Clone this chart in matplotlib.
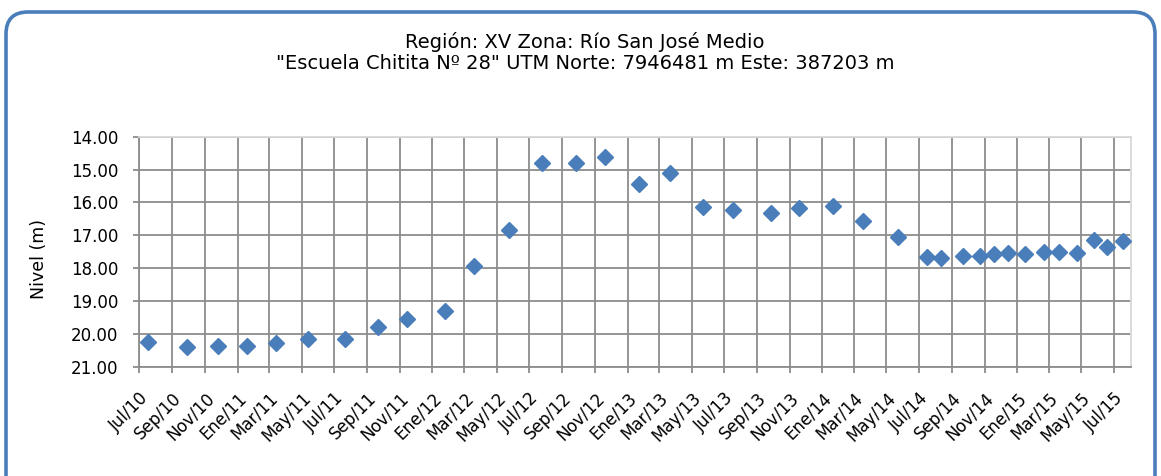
import numpy as np
import pandas as pd
import matplotlib
matplotlib.use("Agg")
import matplotlib.pyplot as plt
import matplotlib.dates as mdates
from matplotlib.patches import FancyBboxPatch
from matplotlib.transforms import IdentityTransform

# Water level readings (m below reference), well "Escuela Chitita Nº 28"
fechas = pd.to_datetime([
    "2010-07-18", "2010-09-29", "2010-11-25", "2011-01-18", "2011-03-14",
    "2011-05-14", "2011-07-21", "2011-09-22", "2011-11-14", "2012-01-24",
    "2012-03-20", "2012-05-24", "2012-07-25", "2012-09-26", "2012-11-20",
    "2013-01-22", "2013-03-21", "2013-05-23", "2013-07-18", "2013-09-26",
    "2013-11-19", "2014-01-20", "2014-03-18", "2014-05-22", "2014-07-16",
    "2014-08-12", "2014-09-21", "2014-10-23", "2014-11-19", "2014-12-15",
    "2015-01-16", "2015-02-21", "2015-03-20", "2015-04-24", "2015-05-25",
    "2015-06-18", "2015-07-18",
])
nivel = [
    20.26, 20.40, 20.38, 20.38, 20.28,
    20.15, 20.15, 19.79, 19.55, 19.31,
    17.94, 16.84, 14.80, 14.79, 14.61,
    15.43, 15.11, 16.15, 16.22, 16.33,
    16.17, 16.10, 16.56, 17.04, 17.67,
    17.68, 17.64, 17.62, 17.57, 17.54,
    17.56, 17.51, 17.51, 17.53, 17.13,
    17.35, 17.16,
]
meses = {1: "Ene", 3: "Mar", 5: "May", 7: "Jul", 9: "Sep", 11: "Nov"}

plt.rcParams["font.family"] = ["DejaVu Sans"]

fig = plt.figure(figsize=(11.61, 4.76), dpi=100)
ax = fig.add_axes([0.120, 0.2296, 0.854, 0.4832])

ax.plot(fechas, nivel, linestyle="none", marker="D", markersize=8,
        color="#4a7ebb", markeredgecolor="#4a7ebb", zorder=3)

ax.set_ylim(21, 14)
ax.set_yticks(np.arange(14, 22, 1))
ax.yaxis.set_major_formatter(plt.FuncFormatter(lambda v, p: f"{v:.2f}"))

ax.set_xlim(pd.Timestamp("2010-07-01"), pd.Timestamp("2015-08-02"))
ax.xaxis.set_major_locator(mdates.MonthLocator(bymonth=[1, 3, 5, 7, 9, 11]))
ax.xaxis.set_major_formatter(plt.FuncFormatter(
    lambda v, p: f"{meses[mdates.num2date(v).month]}/{mdates.num2date(v).year % 100:02d}"))

ax.grid(True, color="#8c8c8c", linewidth=1.3)
ax.set_axisbelow(True)
for side in ["top", "right"]:
    ax.spines[side].set_color("#d9d9d9")
    ax.spines[side].set_linewidth(1.3)
for side in ["left", "bottom"]:
    ax.spines[side].set_color("#8c8c8c")
    ax.spines[side].set_linewidth(1.3)
ax.tick_params(axis="both", colors="#8c8c8c", labelcolor="black",
               length=4, width=1.3, labelsize=12)
ax.tick_params(axis="y", pad=11)
ax.tick_params(axis="x", pad=12)
for lbl in ax.get_xticklabels():
    lbl.set_rotation(45)
    lbl.set_ha("right")
    lbl.set_rotation_mode("anchor")

ax.set_ylabel("Nivel (m)", fontsize=12.5)
ax.yaxis.set_label_coords(-0.092, 0.47)

fig.text(0.504, 0.889,
         "Región: XV Zona: Río San José Medio\n"
         "\"Escuela Chitita Nº 28\" UTM Norte: 7946481 m Este: 387203 m",
         ha="center", va="center", fontsize=14, linespacing=1.15)

# rounded chart frame
marco = FancyBboxPatch((6, -30), 1149, 494,
                       boxstyle="round,pad=0,rounding_size=22",
                       transform=IdentityTransform(), fill=False,
                       edgecolor="#4a7ebb", linewidth=2.6)
fig.patches.append(marco)

fig.savefig("out.png", dpi=100)
